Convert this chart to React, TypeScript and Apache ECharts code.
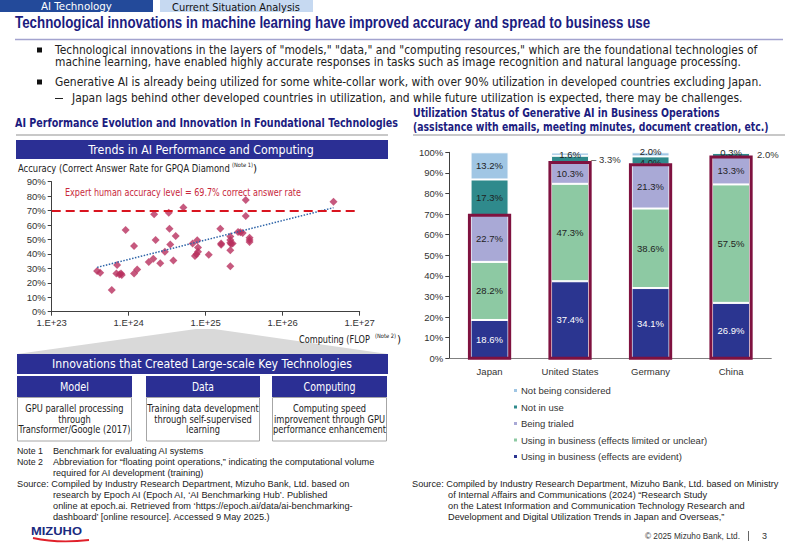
import React, { useEffect, useRef } from 'react';
import * as echarts from 'echarts';

const BODY = 'DejaVu Sans';
const ARIAL = 'Liberation Sans';
const NAVY = '#1c1c80';
const BANNER = '#2b2f94';

// ---- Scatter: AI performance vs computing (log10 FLOP exponent) ----
const flopExponent = [23.59, 23.63, 23.78, 23.85, 23.84, 23.88, 23.9, 23.91, 23.96, 24.07, 24.07, 24.11, 24.26, 24.32, 24.33, 24.35, 24.41, 24.47, 24.52, 24.53, 24.54, 24.58, 24.61, 24.71, 24.83, 24.86, 24.88, 24.89, 24.9, 24.9, 25.04, 25.19, 25.2, 25.2, 25.32, 25.32, 25.32, 25.33, 25.32, 25.32, 25.35, 25.42, 25.45, 25.48, 25.52, 25.52, 25.57, 25.57, 25.57, 26.66];
const gpqaAccuracy = [28.2, 27.0, 15.0, 32.3, 26.5, 25.8, 26.5, 25.4, 56.5, 45.5, 26.5, 29.3, 34.4, 36.7, 67.4, 49.6, 33.5, 41.5, 68.5, 57.5, 46.6, 35.5, 52.4, 72.2, 47.3, 38.5, 39.7, 49.4, 44.5, 41.5, 39.5, 57.5, 47.3, 46.4, 52.0, 49.6, 47.8, 46.8, 42.5, 31.4, 47.3, 55.2, 55.0, 54.5, 66.2, 77.3, 51.2, 49.6, 48.2, 76.2];
const trendFlopExponent = [23.59, 26.66];
const trendAccuracy = [30.7, 72.0];
const expertAccuracy = 69.7;
const flopMin = 23;
const flopMax = 27;
const accuracyMax = 90;

// ---- Stacked bars: generative AI utilization ----
const countries = ['Japan', 'United States', 'Germany', 'China'];
const statusNames = [
  'Using in business (effects are evident)',
  'Using in business (effects limited or unclear)',
  'Being trialed',
  'Not in use',
  'Not being considered',
];
const effectsEvident = [18.6, 37.4, 34.1, 26.9];
const effectsLimited = [28.2, 47.3, 38.6, 57.5];
const beingTrialed = [22.7, 10.3, 21.3, 13.3];
const notInUse = [17.3, 3.3, 4.0, 2.0];
const notConsidered = [13.2, 1.6, 2.0, 0.3];
const statusColors = ['#2b3590', '#8dc9a3', '#a9a9d6', '#2f8a8c', '#a0c6e4'];
const legendOrder = [4, 3, 2, 1, 0];

const measureCtx = document.createElement('canvas').getContext('2d') as CanvasRenderingContext2D;
function measure(text: string, size: number, weight: string, family: string) {
  measureCtx.font = `${weight} ${size}px "${family}"`;
  return measureCtx.measureText(text).width;
}

type TOpt = { size?: number; weight?: string; color?: string; family?: string; align?: string; w?: number; sx?: number };
function T(text: string, x: number, y: number, o: TOpt = {}) {
  const size = o.size ?? 12;
  const weight = o.weight ?? 'normal';
  const family = o.family ?? BODY;
  const align = o.align ?? 'left';
  const mw = measure(text, size, weight, family);
  const sx = o.sx ?? (o.w ? o.w / mw : 1);
  return {
    type: 'text',
    x,
    y,
    scaleX: sx,
    z: 100,
    style: {
      text,
      fontSize: size,
      fontWeight: weight,
      fontFamily: family,
      fill: o.color ?? '#222',
      align,
      textAlign: align,
      verticalAlign: 'middle',
      textVerticalAlign: 'middle',
    },
  };
}
function R(x: number, y: number, w: number, h: number, fill: string, stroke?: string) {
  return {
    type: 'rect',
    z: 50,
    shape: { x, y, width: w, height: h },
    style: { fill, stroke: stroke ?? 'none', lineWidth: 1 },
  };
}
function L(x1: number, y1: number, x2: number, y2: number, color: string, lw: number) {
  return { type: 'line', z: 50, shape: { x1, y1, x2, y2 }, style: { stroke: color, lineWidth: lw } };
}

function buildGraphics() {
  const g: any[] = [];
  // tabs
  g.push(R(0, 0, 153, 12, '#234a9a'));
  g.push(R(160, 0, 153, 12, '#c6d9f1'));
  g.push(T('AI Technology', 41, 6.5, { size: 11, w: 71, color: '#fff' }));
  g.push(T('Current Situation Analysis', 172, 6.5, { size: 11, w: 128, color: '#111' }));
  // title
  g.push(T('Technological innovations in machine learning have improved accuracy and spread to business use', 15, 23, { size: 16, weight: 'bold', family: ARIAL, w: 636, color: NAVY }));
  g.push(L(15, 39.5, 783, 39.5, '#a3a3cf', 1.5));
  // bullets
  g.push(R(37, 47.5, 5, 5, '#111'));
  g.push(R(37, 79.5, 5, 5, '#111'));
  g.push(T('Technological innovations in the layers of "models," "data," and "computing resources," which are the foundational technologies of', 55, 50, { size: 12, w: 703 }));
  g.push(T('machine learning, have enabled highly accurate responses in tasks such as image recognition and natural language processing.', 55, 62, { size: 12, w: 687 }));
  g.push(T('Generative AI is already being utilized for some white-collar work, with over 90% utilization in developed countries excluding Japan.', 55, 82, { size: 12, w: 707 }));
  g.push(L(55, 98.5, 63, 98.5, '#222', 1));
  g.push(T('Japan lags behind other developed countries in utilization, and while future utilization is expected, there may be challenges.', 72, 98, { size: 12, w: 671 }));

  // left section
  g.push(T('AI Performance Evolution and Innovation in Foundational Technologies', 15, 123, { size: 12, weight: 'bold', w: 383, color: NAVY }));
  g.push(L(16, 135, 388, 135, '#c8c8c8', 2));
  g.push(R(16, 140, 372, 19, BANNER));
  g.push(T('Trends in AI Performance and Computing', 201, 150, { size: 13, w: 226, color: '#fff', align: 'center' }));
  g.push(T('Accuracy (Correct Answer Rate for GPQA Diamond', 18, 168, { size: 10.5, w: 212 }));
  g.push(T('(Note 1)', 232, 165, { size: 6, w: 21 }));
  g.push(T(')', 253, 168, { size: 10.5 }));
  g.push(T('Expert human accuracy level = 69.7% correct answer rate', 65, 192.5, { size: 10.5, w: 236, color: '#c8283c' }));

  g.push({
    type: 'polygon',
    z: 10,
    shape: { points: [[17, 354], [196, 329], [214, 329], [388, 354]] },
    style: { fill: '#d9d9d9' },
  });
  g.push(T('Computing (FLOP', 299, 339, { size: 10.5, w: 71 }));
  g.push(T('(Note 2)', 375, 336, { size: 6, w: 21 }));
  g.push(T(')', 397, 339, { size: 10.5 }));

  g.push(R(17, 354, 371, 20, BANNER));
  g.push(T('Innovations that Created Large-scale Key Technologies', 202, 364, { size: 13, w: 300, color: '#fff', align: 'center' }));

  const boxSx = 112 / measure('Transformer/Google (2017)', 11, 'normal', BODY);
  const boxes = [
    { x: 17, w: 115, head: 'Model', hw: 29, lines: ['GPU parallel processing', 'through', 'Transformer/Google (2017)'] },
    { x: 146, w: 114, head: 'Data', hw: 22, lines: ['Training data development', 'through self-supervised', 'learning'] },
    { x: 272, w: 115, head: 'Computing', hw: 52, lines: ['Computing speed', 'improvement through GPU', 'performance enhancement'] },
  ];
  const lineYs = [408.5, 419, 429.5];
  boxes.forEach((b) => {
    g.push(R(b.x, 376, b.w, 21, BANNER));
    g.push(R(b.x + 0.5, 397.5, b.w - 1, 43.5, '#fff', '#a6a6a6'));
    g.push(T(b.head, b.x + b.w / 2, 387, { size: 12, w: b.hw, color: '#fff', align: 'center' }));
    b.lines.forEach((ln, i) => {
      g.push(T(ln, b.x + b.w / 2, lineYs[i], { size: 11, sx: boxSx, align: 'center' }));
    });
  });

  // notes left
  const nOpt = { size: 9.5, family: ARIAL };
  g.push(T('Note 1', 17, 450.5, { ...nOpt, w: 26 }));
  g.push(T('Benchmark for evaluating AI systems', 53, 450.5, { ...nOpt, w: 151 }));
  g.push(T('Note 2', 17, 461.5, { ...nOpt, w: 26 }));
  g.push(T('Abbreviation for \u201cfloating point operations,\u201d indicating the computational volume', 53, 461.5, { ...nOpt, w: 322 }));
  g.push(T('required for AI development (training)', 53, 472.5, { ...nOpt, w: 151 }));
  g.push(T('Source: Compiled by Industry Research Department, Mizuho Bank, Ltd. based on', 17, 484, { ...nOpt, w: 333 }));
  g.push(T('research by Epoch AI (Epoch AI, \u2018AI Benchmarking Hub\u2019. Published', 53, 495, { ...nOpt, w: 276 }));
  g.push(T('online at epoch.ai. Retrieved from \u2018https://epoch.ai/data/ai-benchmarking-', 53, 505.7, { ...nOpt, w: 300 }));
  g.push(T('dashboard\u2019 [online resource]. Accessed 9 May 2025.)', 53, 516.7, { ...nOpt, w: 218 }));

  // logo
  g.push(T('MIZUHO', 31, 531, { size: 11, weight: 'bold', family: ARIAL, w: 51, color: '#1a2a80' }));
  g.push({
    type: 'bezierCurve',
    z: 50,
    shape: { x1: 33, y1: 538, cpx1: 58, cpy1: 543.5, x2: 89, y2: 540 },
    style: { stroke: '#e0202a', lineWidth: 1.8, fill: 'none' },
  });

  // right section
  g.push(T('Utilization Status of Generative AI in Business Operations', 413, 113.5, { size: 12, weight: 'bold', w: 307, color: NAVY }));
  g.push(T('(assistance with emails, meeting minutes, document creation, etc.)', 413, 127, { size: 12, weight: 'bold', w: 356, color: NAVY }));
  g.push(L(413, 135, 785, 135, '#c8c8c8', 2));

  g.push(T('Source: Compiled by Industry Research Department, Mizuho Bank, Ltd. based on Ministry', 412, 483.5, { ...nOpt, w: 367 }));
  g.push(T('of Internal Affairs and Communications (2024) \u201cResearch Study', 448, 494.5, { ...nOpt, w: 260 }));
  g.push(T('on the Latest Information and Communication Technology Research and', 448, 505.7, { ...nOpt, w: 297 }));
  g.push(T('Development and Digital Utilization Trends in Japan and Overseas,\u201d', 448, 516.7, { ...nOpt, w: 277 }));

  g.push(T('\u00a9 2025 Mizuho Bank, Ltd.', 645, 536, { size: 9, family: ARIAL, w: 95, color: '#333' }));
  g.push(L(748.5, 531, 748.5, 541, '#666', 1));
  g.push(T('3', 762, 536, { size: 9, family: ARIAL, color: '#333' }));
  return g;
}

function barItems(vals: number[], overrides: Record<number, any>) {
  return vals.map((v, i) => (overrides[i] ? { value: v, label: overrides[i] } : { value: v }));
}

export default function App() {
  const ref = useRef<HTMLDivElement>(null);
  useEffect(() => {
    if (!ref.current) return;
    const chart = echarts.init(ref.current, undefined, { renderer: 'svg', width: 800, height: 553 });
    const stacks = [effectsEvident, effectsLimited, beingTrialed, notInUse, notConsidered];
    const overrides: Record<number, any>[] = [
      {},
      {},
      {},
      {
        1: { position: 'right', distance: 2, formatter: '\u2013 {c}%', color: '#333' },
        2: { offset: [0, 1.5] },
        3: { position: 'right', distance: 7, color: '#333' },
      },
      {
        2: { offset: [0, -3] },
      },
    ];
    const axisFont = { fontFamily: ARIAL, fontSize: 9.5, color: '#333' };

    const barSeries = stacks.map((vals, k) => ({
      name: statusNames[k],
      type: 'bar',
      stack: 'util',
      xAxisIndex: 1,
      yAxisIndex: 1,
      barWidth: 38,
      itemStyle: { color: statusColors[k], borderColor: '#fff', borderWidth: 1 },
      label: {
        show: true,
        position: 'inside',
        fontFamily: ARIAL,
        fontSize: 9.5,
        color: k === 0 ? '#fff' : '#1f1f1f',
        formatter: (p: any) => `${Number(p.value).toFixed(1)}%`,
      },
      data: barItems(vals, overrides[k]),
    }));

    const option: any = {
      animation: false,
      textStyle: { fontFamily: ARIAL },
      graphic: { elements: buildGraphics() },
      grid: [
        { left: 51.7, top: 181.7, width: 308, height: 130 },
        { left: 449.3, top: 152.3, width: 322, height: 206 },
      ],
      xAxis: [
        {
          type: 'value',
          gridIndex: 0,
          min: flopMin,
          max: flopMax,
          interval: 1,
          axisLine: { show: true, lineStyle: { color: '#404040' } },
          axisTick: { show: true, length: 4, lineStyle: { color: '#404040' } },
          splitLine: { show: false },
          axisLabel: { ...axisFont, margin: 6, formatter: (v: number) => `1.E+${v}` },
        },
        {
          type: 'category',
          gridIndex: 1,
          data: countries,
          axisLine: { show: true, lineStyle: { color: '#808080' } },
          axisTick: { show: false },
          axisLabel: { ...axisFont, margin: 8 },
        },
      ],
      yAxis: [
        {
          type: 'value',
          gridIndex: 0,
          min: 0,
          max: accuracyMax,
          interval: 10,
          axisLine: { show: true, lineStyle: { color: '#404040' } },
          axisTick: { show: true, length: 4, lineStyle: { color: '#404040' } },
          splitLine: { show: false },
          axisLabel: { ...axisFont, margin: 6, formatter: '{value}%' },
        },
        {
          type: 'value',
          gridIndex: 1,
          min: 0,
          max: 100,
          interval: 10,
          axisLine: { show: true, lineStyle: { color: '#404040' } },
          axisTick: { show: true, length: 4, lineStyle: { color: '#404040' } },
          splitLine: { show: false },
          axisLabel: { ...axisFont, margin: 6, formatter: '{value}%' },
        },
      ],
      legend: {
        orient: 'vertical',
        left: 512,
        top: 385.5,
        padding: 0,
        itemWidth: 5,
        itemHeight: 5,
        itemGap: 6.5,
        icon: 'rect',
        data: legendOrder.map((i) => statusNames[i]),
        textStyle: { fontFamily: ARIAL, fontSize: 9.5, color: '#333', padding: [0, 0, 0, -2] },
      },
      series: [
        {
          type: 'scatter',
          xAxisIndex: 0,
          yAxisIndex: 0,
          symbol: 'diamond',
          symbolSize: 8,
          itemStyle: { color: '#b8305e' },
          data: flopExponent.map((x, i) => [x, gpqaAccuracy[i]]),
          markLine: {
            silent: true,
            symbol: 'none',
            label: { show: false },
            lineStyle: { color: '#d9141f', type: [9, 5], width: 2 },
            data: [{ yAxis: expertAccuracy }],
          },
          z: 3,
        },
        {
          type: 'line',
          xAxisIndex: 0,
          yAxisIndex: 0,
          symbol: 'none',
          lineStyle: { color: '#2e64a8', type: 'dotted', width: 1.5 },
          data: trendFlopExponent.map((x, i) => [x, trendAccuracy[i]]),
          z: 4,
        },
        ...barSeries,
        {
          type: 'custom',
          xAxisIndex: 1,
          yAxisIndex: 1,
          z: 10,
          silent: true,
          data: countries.map((_, i) => [i, effectsEvident[i] + effectsLimited[i] + beingTrialed[i]]),
          renderItem: (_params: any, api: any) => {
            const i = api.value(0);
            const top = api.coord([i, api.value(1)]);
            const bottom = api.coord([i, 0]);
            const bw = api.size([1, 0])[0] * 0.5;
            return {
              type: 'rect',
              shape: { x: top[0] - bw / 2, y: top[1], width: bw, height: bottom[1] - top[1] },
              style: { fill: 'none', stroke: '#7f1240', lineWidth: 3 },
            };
          },
        },
      ],
    };
    chart.setOption(option);
    return () => chart.dispose();
  }, []);
  return (
    <div
      ref={ref}
      style={{ position: 'fixed', left: 0, top: 0, width: 800, height: 553, background: '#fff' }}
    />
  );
}
